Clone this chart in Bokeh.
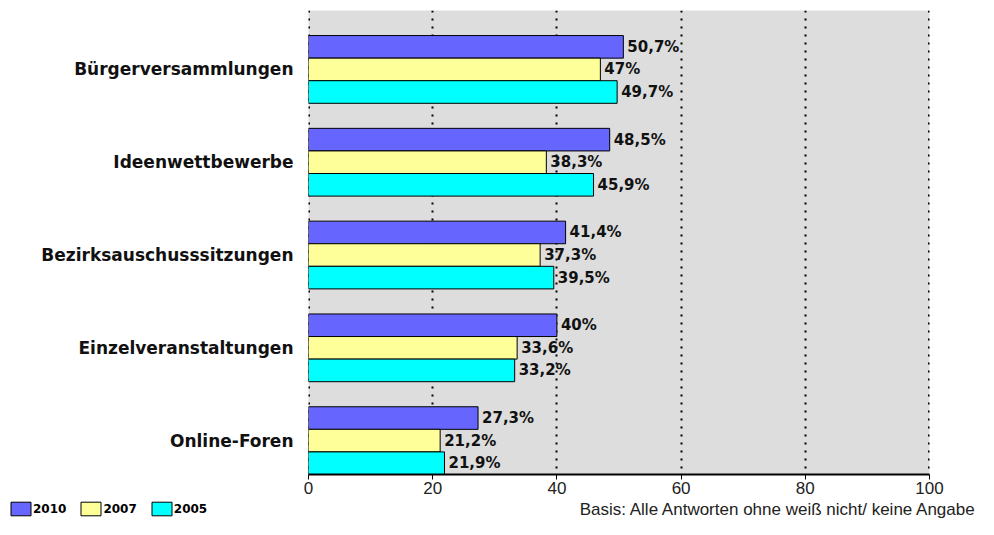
from bokeh.plotting import figure
from bokeh.models import Range1d, Legend, LegendItem, Label, FixedTicker, ColumnDataSource, LabelSet, Span
from bokeh.layouts import column
from bokeh.embed import file_html
from bokeh.resources import INLINE
from bokeh.core.properties import value

categories = ["Bürgerversammlungen", "Ideenwettbewerbe", "Bezirksauschusssitzungen",
              "Einzelveranstaltungen", "Online-Foren"]
series = ["2010", "2007", "2005"]
v2010 = [50.7, 48.5, 41.4, 40.0, 27.3]
v2007 = [47.0, 38.3, 37.3, 33.6, 21.2]
v2005 = [49.7, 45.9, 39.5, 33.2, 21.9]
labels2010 = ["50,7%", "48,5%", "41,4%", "40%", "27,3%"]
labels2007 = ["47%", "38,3%", "37,3%", "33,6%", "21,2%"]
labels2005 = ["49,7%", "45,9%", "39,5%", "33,2%", "21,9%"]
x_ticks = [0, 20, 40, 60, 80, 100]
note = "Basis: Alle Antworten ohne weiß nicht/ keine Angabe"

colors = ["#6666ff", "#ffff99", "#00ffff"]

W = 978
H_MAIN = 498
H_FOOT = 21
FL, FR, FT, FB = 308, 929, 10, 474
p = figure(width=W, height=H_MAIN, output_backend="svg", toolbar_location=None,
           x_range=Range1d(0, 100), y_range=Range1d(5, 0),
           min_border_left=FL, min_border_right=W - FR, min_border_top=FT,
           min_border_bottom=H_MAIN - FB)
p.background_fill_color = "#dddddd"
p.border_fill_color = "white"
p.outline_line_color = None
p.frame_align = False

gap = 0.27
bh = (1 - gap) / 3
all_vals = [v2010, v2007, v2005]
all_labels = [labels2010, labels2007, labels2005]
for k, (vals, labs) in enumerate(zip(all_vals, all_labels)):
    ys = [i + gap + bh * (k + 0.5) for i in range(len(categories))]
    src = ColumnDataSource(dict(y=ys, right=vals, lab=labs))
    p.hbar(y="y", right="right", left=0, height=bh, source=src,
           fill_color=colors[k], line_color="black", line_width=1)
    ls = LabelSet(x="right", y="y", text="lab", source=src, x_offset=4, y_offset=0,
                  text_font=value("DejaVu Sans"), text_font_style="bold",
                  text_font_size="15px", text_baseline="middle", text_color="#111111")
    p.add_layout(ls)

# axes
p.xaxis.ticker = FixedTicker(ticks=x_ticks)
p.xaxis.axis_line_color = "black"
p.xaxis.axis_line_width = 2
p.xaxis.major_tick_in = 0
p.xaxis.major_tick_out = 5
p.xaxis.minor_tick_line_color = None
p.xaxis.major_label_text_font = "Liberation Sans"
p.xaxis.major_label_text_font_size = "17px"
p.xaxis.major_label_text_color = "#222222"
p.xaxis.major_label_standoff = 2

centers = [i + gap + 1.5 * bh for i in range(len(categories))]
p.yaxis.ticker = FixedTicker(ticks=centers)
p.yaxis.major_label_overrides = {c: n for c, n in zip(centers, categories)}
p.yaxis.axis_line_color = None
p.yaxis.major_tick_line_color = None
p.yaxis.minor_tick_line_color = None
p.yaxis.major_label_text_font = "DejaVu Sans"
p.yaxis.major_label_text_font_style = "bold"
p.yaxis.major_label_text_font_size = "17px"
p.yaxis.major_label_text_color = "#111111"
p.yaxis.major_label_standoff = 9

p.ygrid.grid_line_color = None
p.xgrid.ticker = FixedTicker(ticks=x_ticks)
p.xgrid.grid_line_color = "black"
p.xgrid.grid_line_width = 2
p.xgrid.grid_line_dash = "2 6"
p.xgrid.level = "underlay"
for xe in (x_ticks[0], x_ticks[-1]):
    p.add_layout(Span(location=xe, dimension="height", line_color="black",
                      line_width=3, line_dash="2 6", level="underlay"))

# footer with legend and note
f = figure(width=W, height=H_FOOT, output_backend="svg", toolbar_location=None,
           x_range=Range1d(0, W), y_range=Range1d(0, H_FOOT),
           min_border_left=0, min_border_right=0, min_border_top=0, min_border_bottom=0)
f.frame_align = False
f.axis.visible = False
f.grid.visible = False
f.outline_line_color = None
f.background_fill_color = "white"
dummies = []
for k in range(3):
    dummies.append(f.hbar(y=[-100], right=[1], left=0, height=1, fill_color=colors[k],
                          line_color="black", line_width=1))
legend = Legend(items=[LegendItem(label=s, renderers=[r], index=0) for s, r in zip(series, dummies)],
                orientation="horizontal", location=(8, 2),
                glyph_width=25, glyph_height=17, label_standoff=0, spacing=12,
                label_text_font="DejaVu Sans", label_text_font_style="bold",
                label_text_font_size="12px", label_text_color="black",
                label_height=17, padding=0, margin=0,
                background_fill_alpha=0, border_line_color=None)
f.add_layout(legend, "center")
f.add_layout(Label(x=W - 1, y=1, text=note,
                   text_font="Liberation Sans", text_font_size="17px", text_align="right",
                   text_baseline="bottom", text_color="#222222"))

layout = column(p, f, spacing=0)
open("out.html", "w").write(file_html(layout, INLINE))
